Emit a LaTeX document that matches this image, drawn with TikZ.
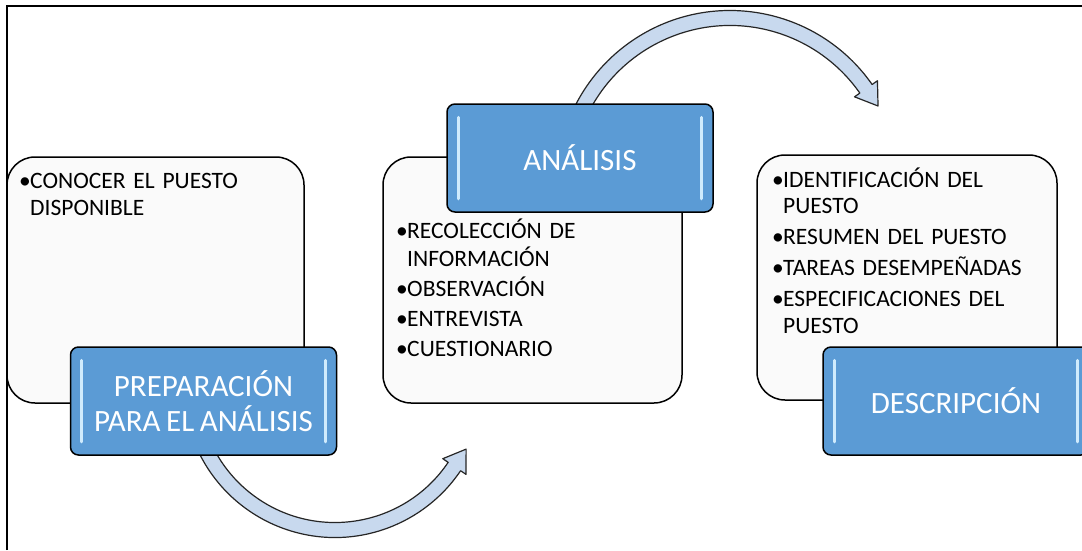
\documentclass[tikz,border=0pt]{standalone}
\usepackage{fontspec}
\setmainfont{Carlito}[WordSpace=0.8]
\usetikzlibrary{calc}
\definecolor{boxblue}{HTML}{5B9BD5}
\definecolor{hilite}{HTML}{CFEBFD}
\definecolor{arrowfill}{HTML}{C8D9EE}
\definecolor{panel}{HTML}{FAFAFA}
\newcommand{\bul}{\makebox[11pt][l]{•}}
\newcommand{\ind}{\hspace*{11pt}}
\begin{document}
\begin{tikzpicture}[x=1pt,y=1pt,
  panelbox/.style={draw=black, line width=1.5pt, fill=panel, rounded corners=28pt, inner sep=0pt},
  bluebox/.style={draw=black, line width=1.5pt, fill=boxblue, rounded corners=8pt, minimum width=266pt, minimum height=108pt, inner sep=0pt, text=white, align=center, font=\fontsize{31}{35}\selectfont},
  listtext/.style={anchor=north west, inner sep=0pt, align=left, text width=300pt},
  blockarrow/.style={draw=black!85, line width=1.2pt, fill=arrowfill, line join=round},
  hl/.style={draw=hilite, line width=3pt, line cap=round}]
\clip (0,0) rectangle (1082,-550);
\fill[white] (0,0) rectangle (1082,-550);
\draw[line width=2pt] (7,-550) -- (7,-6) -- (1082,-6);

% panels
\node[panelbox, minimum width=297pt, minimum height=246pt] (p1) at (155.5,-280) {};
\node[panelbox, minimum width=299pt, minimum height=246pt] (p2) at (532.5,-280) {};
\node[panelbox, minimum width=300pt, minimum height=245pt] (p3) at (907,-277.5) {};

% curved arrows
\coordinate (c1) at (335,-386);
\coordinate (c2) at (730,-184);
\draw[blockarrow] ($(c1)+(200:151.5)$) arc[start angle=200,end angle=326,radius=151.5]
  -- ($(c1)+(326:158)$) -- ($(c1)+(326:144)+(56:21)$) -- ($(c1)+(326:130)$)
  -- ($(c1)+(326:136.5)$) arc[start angle=326,end angle=200,radius=136.5] -- cycle;
\draw[blockarrow] ($(c2)+(160:158.5)$) arc[start angle=160,end angle=35,radius=158.5]
  -- ($(c2)+(35:152)$) -- ($(c2)+(35:166)+(-55:21)$) -- ($(c2)+(35:180)$)
  -- ($(c2)+(35:173.5)$) arc[start angle=35,end angle=160,radius=173.5] -- cycle;

% blue boxes
\node[bluebox] (b1) at (203.5,-401) {PREPARACIÓN\\PARA EL ANÁLISIS};
\node[bluebox] (b2) at (580,-158) {ANÁLISIS};
\node[bluebox] (b3) at (956,-401) {DESCRIPCIÓN};
\foreach \b in {b1,b2,b3}{
  \draw[hl] ($(\b.north west)+(12,-14)$) -- ($(\b.south west)+(12,14)$);
  \draw[hl] ($(\b.north east)+(-12,-14)$) -- ($(\b.south east)+(-12,14)$);
}

% lists
\node[listtext, font=\fontsize{23.5}{27}\selectfont] (t1) at (19,-166)
  {\rule{0pt}{22pt}\bul CONOCER EL PUESTO\\\ind DISPONIBLE};
\node[listtext, font=\fontsize{23.5}{28}\selectfont] (t2) at (396,-216)
  {\rule{0pt}{22pt}\bul RECOLECCIÓN DE\\\ind INFORMACIÓN\\[2pt]\bul OBSERVACIÓN\\[2pt]\bul ENTREVISTA\\[2pt]\bul CUESTIONARIO};
\node[listtext, font=\fontsize{23.5}{26.5}\selectfont] (t3) at (772,-165)
  {\rule{0pt}{22pt}\bul IDENTIFICACIÓN DEL\\\ind PUESTO\\[4.5pt]\bul RESUMEN DEL PUESTO\\[4.5pt]\bul TAREAS DESEMPEÑADAS\\[4.5pt]\bul ESPECIFICACIONES DEL\\\ind PUESTO};
\end{tikzpicture}
\end{document}
